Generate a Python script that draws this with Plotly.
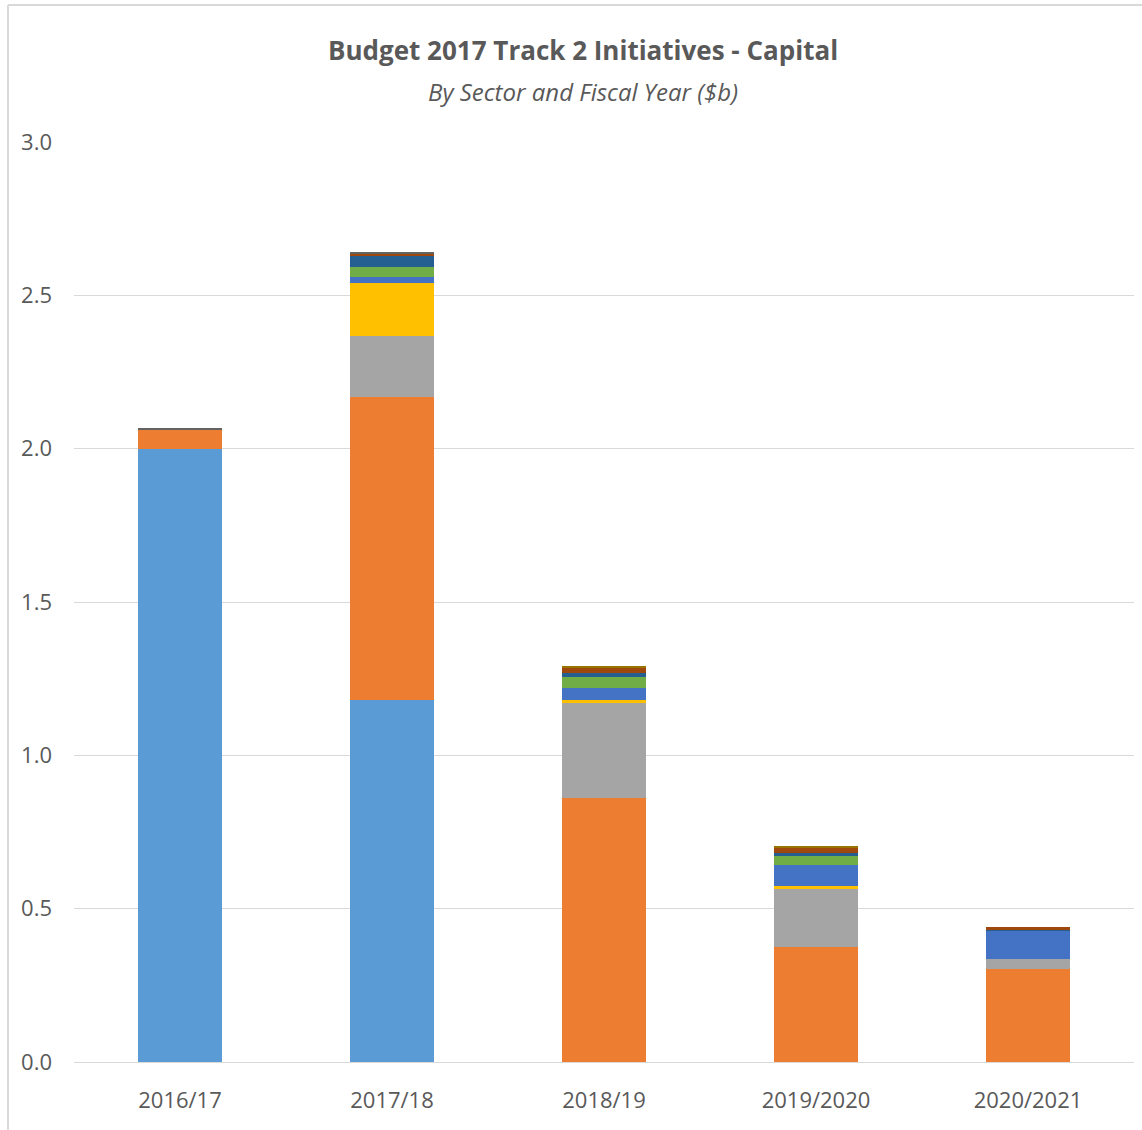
import plotly.graph_objects as go

# Fiscal years on the category axis
years = ["2016/17", "2017/18", "2018/19", "2019/2020", "2020/2021"]

# Capital spending by sector ($b), stacked bottom to top
sector_1 = [2.000, 1.180, 0.000, 0.000, 0.000]
sector_2 = [0.064, 0.988, 0.861, 0.375, 0.303]
sector_3 = [0.000, 0.200, 0.311, 0.189, 0.033]
sector_4 = [0.000, 0.172, 0.007, 0.010, 0.000]
sector_5 = [0.000, 0.020, 0.042, 0.068, 0.094]
sector_6 = [0.000, 0.033, 0.033, 0.031, 0.000]
sector_7 = [0.000, 0.035, 0.016, 0.008, 0.001]
sector_8 = [0.000, 0.009, 0.017, 0.017, 0.009]
sector_9 = [0.005, 0.003, 0.000, 0.000, 0.000]
sector_10 = [0.000, 0.000, 0.005, 0.004, 0.000]

y_ticks = [0.0, 0.5, 1.0, 1.5, 2.0, 2.5, 3.0]

series = [
    ("Sector 1", sector_1, "#5B9BD5"),
    ("Sector 2", sector_2, "#ED7D31"),
    ("Sector 3", sector_3, "#A5A5A5"),
    ("Sector 4", sector_4, "#FFC000"),
    ("Sector 5", sector_5, "#4472C4"),
    ("Sector 6", sector_6, "#70AD47"),
    ("Sector 7", sector_7, "#255E91"),
    ("Sector 8", sector_8, "#9E480E"),
    ("Sector 9", sector_9, "#636363"),
    ("Sector 10", sector_10, "#997300"),
]

fig = go.Figure()
for name, vals, color in series:
    fig.add_trace(go.Bar(
        x=years, y=vals, name=name,
        marker=dict(color=color, line=dict(width=0)),
    ))

TEXT = "#595959"
FONT = "Open Sans, sans-serif"

# Plot area spans x 74..1134 px and y 142..1062 px
L, R, T, B = 74, 8, 142, 68
W, H = 1142, 1130
pw, ph = W - L - R, H - T - B

def px(x):
    return (x - L) / pw

def py(y):
    return (H - B - y) / ph

fig.update_layout(
    width=W, height=H,
    margin=dict(l=L, r=R, t=T, b=B),
    barmode="stack",
    bargap=0.6,
    showlegend=False,
    plot_bgcolor="white",
    paper_bgcolor="white",
    font=dict(family=FONT, color=TEXT, size=19),
    xaxis=dict(
        showgrid=False, showline=True, linecolor="#D9D9D9", linewidth=1,
        ticks="", tickfont=dict(size=22, color=TEXT, family=FONT),
        ticklabelstandoff=19,
    ),
    yaxis=dict(
        range=[0, 3.0], tickvals=y_ticks, ticktext=[f"{v:.1f}" for v in y_ticks],
        showgrid=True, gridcolor="#D9D9D9", gridwidth=1,
        zeroline=False, showline=False, ticks="",
        tickfont=dict(size=22, color=TEXT, family=FONT),
        ticklabelstandoff=21,
    ),
    annotations=[
        dict(text="<b>Budget 2017 Track 2 Initiatives - Capital</b>",
             xref="paper", yref="paper", x=px(583), y=py(50),
             xanchor="center", yanchor="middle", showarrow=False,
             font=dict(size=26, color=TEXT, family=FONT)),
        dict(text="<i>By Sector and Fiscal Year ($b)</i>",
             xref="paper", yref="paper", x=px(583), y=py(91),
             xanchor="center", yanchor="middle", showarrow=False,
             font=dict(size=24, color=TEXT, family=FONT)),
    ],
    shapes=[
        # chart frame: left and top edges
        dict(type="line", xref="paper", yref="paper",
             x0=px(8), x1=px(8), y0=py(1130), y1=py(5),
             line=dict(color="#D9D9D9", width=2), layer="below"),
        dict(type="line", xref="paper", yref="paper",
             x0=px(8), x1=px(1142), y0=py(5), y1=py(5),
             line=dict(color="#D9D9D9", width=2), layer="below"),
    ],
)

fig.write_html("out.html")
